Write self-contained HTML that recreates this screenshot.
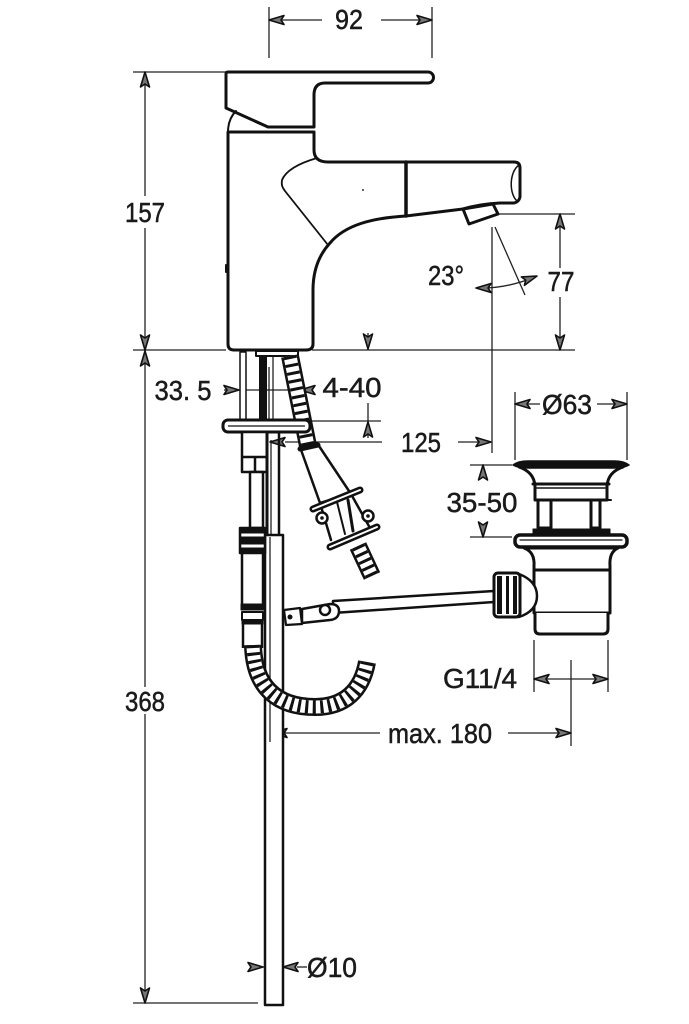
<!DOCTYPE html>
<html><head><meta charset="utf-8"><style>
html,body{margin:0;padding:0;background:#fff;}
svg{display:block;}
text{font-family:"Liberation Sans",sans-serif;font-size:28px;fill:#1a1a1a;stroke:#1a1a1a;stroke-width:0.5;}
</style></head><body>
<svg width="689" height="1024" viewBox="0 0 689 1024" xmlns="http://www.w3.org/2000/svg">
<defs>
<path id="a" d="M0,0 L-15,-4.5 L-12,0 L-15,4.5 Z" fill="#777" stroke="#111" stroke-width="1.6" stroke-linejoin="round"/>
</defs>
<rect width="689" height="1024" fill="#fff"/>

<!-- ================= DIMENSIONS ================= -->
<g stroke="#222" stroke-width="1.3" fill="none">
  <line x1="269" y1="7" x2="269" y2="58"/>
  <line x1="432" y1="7" x2="432" y2="58"/>
  <line x1="269" y1="20" x2="322" y2="20"/>
  <line x1="381" y1="20" x2="432" y2="20"/>
  <line x1="133" y1="72" x2="226" y2="72"/>
  <line x1="145" y1="72" x2="145" y2="196"/>
  <line x1="145" y1="228" x2="145" y2="687"/>
  <line x1="145" y1="714" x2="145" y2="1003"/>
  <line x1="133" y1="350" x2="226" y2="350"/>
  <line x1="312" y1="350" x2="575" y2="350"/>
  <line x1="133" y1="1003" x2="258" y2="1003"/>
  <line x1="497" y1="214" x2="575" y2="214"/>
  <line x1="560" y1="214" x2="560" y2="268"/>
  <line x1="560" y1="297" x2="560" y2="350"/>
  <line x1="495" y1="227" x2="525" y2="295"/>
  <line x1="492" y1="227" x2="492" y2="453"/>
  <path d="M478,288 Q505,289 535,277"/>
  <line x1="368" y1="333" x2="368" y2="350"/>
  <line x1="300" y1="421" x2="381" y2="421"/>
  <line x1="368" y1="403" x2="368" y2="438"/>
  <line x1="224" y1="390" x2="300" y2="390"/>
  <line x1="285" y1="442" x2="382" y2="442"/>
  <line x1="458" y1="442" x2="491" y2="442"/>
  <line x1="470" y1="465" x2="512" y2="465"/>
  <line x1="470" y1="537" x2="512" y2="537"/>
  <line x1="515" y1="392" x2="515" y2="460"/>
  <line x1="627" y1="392" x2="627" y2="460"/>
  <line x1="515" y1="404" x2="540" y2="404"/>
  <line x1="597" y1="404" x2="627" y2="404"/>
  <line x1="534" y1="640" x2="534" y2="692"/>
  <line x1="608" y1="640" x2="608" y2="692"/>
  <line x1="534" y1="679" x2="608" y2="679"/>
  <line x1="571" y1="660" x2="571" y2="746"/>
  <line x1="285" y1="733" x2="380" y2="733"/>
  <line x1="508" y1="733" x2="571" y2="733"/>
  <line x1="263" y1="967" x2="283" y2="967"/>
  <line x1="297" y1="967" x2="307" y2="967"/>
</g>

<use href="#a" transform="translate(269,20) rotate(180)"/>
<use href="#a" transform="translate(432,20)"/>
<use href="#a" transform="translate(145,72) rotate(-90)"/>
<use href="#a" transform="translate(145,350) rotate(90)"/>
<use href="#a" transform="translate(145,351) rotate(-90)"/>
<use href="#a" transform="translate(145,1003) rotate(90)"/>
<use href="#a" transform="translate(560,214) rotate(-90)"/>
<use href="#a" transform="translate(560,350) rotate(90)"/>
<use href="#a" transform="translate(476,288) rotate(180)"/>
<use href="#a" transform="translate(537,276) rotate(-20)"/>
<use href="#a" transform="translate(368,349) rotate(90)"/>
<use href="#a" transform="translate(368,422) rotate(-90)"/>
<use href="#a" transform="translate(239,390)"/>
<use href="#a" transform="translate(300,390) rotate(180)"/>
<use href="#a" transform="translate(270,442) rotate(180)"/>
<use href="#a" transform="translate(491,442)"/>
<use href="#a" transform="translate(483,465) rotate(-90)"/>
<use href="#a" transform="translate(483,537) rotate(90)"/>
<use href="#a" transform="translate(515,404) rotate(180)"/>
<use href="#a" transform="translate(627,404)"/>
<use href="#a" transform="translate(534,679) rotate(180)"/>
<use href="#a" transform="translate(608,679)"/>
<use href="#a" transform="translate(272,733) rotate(180)"/>
<use href="#a" transform="translate(571,733)"/>
<use href="#a" transform="translate(263,967)"/>
<use href="#a" transform="translate(283,967) rotate(180)"/>

<g text-anchor="middle">
  <text x="349" y="29" textLength="28" lengthAdjust="spacingAndGlyphs">92</text>
  <text x="145" y="222" textLength="40" lengthAdjust="spacingAndGlyphs">157</text>
  <text x="145" y="711" textLength="40" lengthAdjust="spacingAndGlyphs">368</text>
  <text x="561" y="291" textLength="27" lengthAdjust="spacingAndGlyphs">77</text>
  <text x="446" y="285" textLength="36" lengthAdjust="spacingAndGlyphs">23°</text>
  <text x="183" y="400" textLength="57" lengthAdjust="spacingAndGlyphs">33. 5</text>
  <text x="352" y="397" textLength="59" lengthAdjust="spacingAndGlyphs">4-40</text>
  <text x="421" y="452" textLength="40" lengthAdjust="spacingAndGlyphs">125</text>
  <text x="482" y="512" textLength="71" lengthAdjust="spacingAndGlyphs">35-50</text>
  <text x="567" y="414" textLength="50" lengthAdjust="spacingAndGlyphs">Ø63</text>
  <text x="480" y="688" textLength="74" lengthAdjust="spacingAndGlyphs">G11/4</text>
  <text x="440" y="743" textLength="104" lengthAdjust="spacingAndGlyphs">max. 180</text>
  <text x="332" y="977" textLength="50" lengthAdjust="spacingAndGlyphs">Ø10</text>
</g>

<!-- ================= FAUCET BODY ================= -->
<g stroke="#111" stroke-width="3" fill="#fff" stroke-linejoin="round" stroke-linecap="round">
  <path d="M228,132 L314,132 L314,150 Q314,162 328,162 L514,162 Q520,162 520,168 L520,197 Q519,202 514,203 L500,203 Q480,204 463,209 L406,216 C372,218 345,225 330,243 C318,256 313,272 313,290 L313,344 Q313,350 306,350 L234,350 Q228,350 228,344 Z"/>
  <path d="M228,72 L428,72 A5.5,5.5 0 0 1 428,83 L325,83 Q314,83 314,95 L314,127 L268,127 L226,108 L226,74 Q226,72 228,72 Z"/>
  <path d="M463,209 L469,224 L498,214 L493,204 Z"/>
</g>
<g stroke="#111" fill="none" stroke-linecap="round">
  <path d="M228,132 C228,123 231,116 236,111" stroke-width="2"/>
  <line x1="406" y1="162" x2="406" y2="216" stroke-width="3.5"/>
  <path d="M519,165 C509,172 509,194 517,201" stroke-width="1.5"/>
  <path d="M317,158 C300,163 286,170 282,180 C281,186 283,188 285,191 L328,245" stroke-width="1.8"/>
  <line x1="226" y1="265" x2="226" y2="272" stroke-width="2"/>
</g>
<circle cx="363" cy="190" r="1" fill="#333"/>

<!-- ================= UNDER-BASIN PARTS ================= -->
<g stroke="#111" fill="#fff" stroke-linejoin="round">
  <rect x="240" y="352" width="6" height="68" stroke-width="1.5"/>
  <rect x="256" y="351" width="42" height="5" stroke-width="2"/>
  <rect x="259" y="355" width="8" height="65" fill="#111" stroke="none"/>
  <line x1="269" y1="367" x2="269" y2="420" stroke-width="1.2"/>
  <line x1="273" y1="356" x2="273" y2="420" stroke-width="1.2"/>
</g>

<g fill="none">
  <line x1="290" y1="356" x2="308" y2="446" stroke="#111" stroke-width="18"/>
  <line x1="290" y1="356" x2="308" y2="446" stroke="#fff" stroke-width="13"/>
  <line x1="290" y1="356" x2="308" y2="446" stroke="#111" stroke-width="13" stroke-dasharray="3 5"/>
</g>

<g stroke="#111" fill="#fff" stroke-linejoin="round">
  <rect x="223" y="420" width="87" height="12" rx="5" stroke-width="3"/>
  <line x1="228" y1="426" x2="305" y2="426" stroke-width="1.2"/>
  <rect x="242" y="432" width="25" height="40" stroke-width="2.5"/>
  <line x1="242" y1="457" x2="267" y2="457" stroke-width="2.5"/>
  <line x1="255" y1="457" x2="255" y2="472" stroke-width="2.5"/>
  <rect x="250" y="472" width="13" height="56" stroke-width="2.5"/>
  <line x1="267" y1="432" x2="267" y2="535" stroke-width="3"/>
  <line x1="271" y1="440" x2="271" y2="535" stroke-width="1.2"/>
  <line x1="279" y1="432" x2="279" y2="535" stroke-width="2.5"/>
  <rect x="265" y="535" width="18" height="470" stroke-width="2.5"/>
  <line x1="270" y1="537" x2="270" y2="742" stroke-width="1.2" fill="none"/>
  <rect x="240" y="528" width="25" height="25" stroke-width="2.5"/>
  <rect x="240" y="528" width="25" height="5" fill="#111"/>
  <rect x="240" y="537" width="25" height="7" fill="#111"/>
  <rect x="240" y="548" width="25" height="5" fill="#111"/>
  <line x1="242" y1="553" x2="242" y2="604" stroke-width="2.5"/>
  <line x1="263" y1="553" x2="263" y2="604" stroke-width="2.5"/>
  <rect x="241" y="604" width="23" height="6" fill="#111"/>
  <rect x="242" y="612" width="21" height="8" stroke-width="2"/>
  <rect x="242" y="620" width="21" height="4" fill="#111"/>
  <line x1="243" y1="624" x2="243" y2="648" stroke-width="2.5"/>
  <line x1="262" y1="624" x2="262" y2="648" stroke-width="2.5"/>
</g>

<g fill="none">
  <path d="M253,645 C254,690 280,707 315,707 C345,707 362,690 367,662" stroke="#111" stroke-width="18"/>
  <path d="M253,645 C254,690 280,707 315,707 C345,707 362,690 367,662" stroke="#fff" stroke-width="13"/>
  <path d="M253,645 C254,690 280,707 315,707 C345,707 362,690 367,662" stroke="#111" stroke-width="13" stroke-dasharray="3 4.5"/>
</g>

<g stroke="#111" fill="#fff" stroke-linejoin="round" stroke-linecap="round">
  <path d="M300,447 L317,443 L351,494 L320,503 Z" stroke-width="2.5"/>
  <line x1="300" y1="449" x2="318" y2="445" stroke-width="5"/>
  <line x1="320" y1="503" x2="331" y2="540" stroke-width="2.5"/>
  <line x1="351" y1="494" x2="370" y2="528" stroke-width="2.5"/>
  <line x1="337" y1="502" x2="345" y2="534" stroke-width="2"/>
  <line x1="348" y1="500" x2="353" y2="531" stroke-width="3"/>
  <line x1="313" y1="509" x2="360" y2="490" stroke-width="7"/>
  <line x1="313" y1="509" x2="360" y2="490" stroke="#fff" stroke-width="2"/>
  <circle cx="322" cy="518" r="5.5" stroke-width="2.5"/>
  <circle cx="322" cy="518" r="1.8" fill="#111" stroke="none"/>
  <circle cx="368" cy="516" r="5.5" stroke-width="2.5"/>
  <circle cx="368" cy="516" r="1.8" fill="#111" stroke="none"/>
  <line x1="330" y1="547" x2="377" y2="527" stroke-width="7"/>
  <line x1="330" y1="547" x2="377" y2="527" stroke="#fff" stroke-width="2"/>
</g>
<g fill="none">
  <line x1="358" y1="546" x2="372" y2="576" stroke="#111" stroke-width="18"/>
  <line x1="358" y1="546" x2="372" y2="576" stroke="#fff" stroke-width="13"/>
  <line x1="358" y1="546" x2="372" y2="576" stroke="#111" stroke-width="13" stroke-dasharray="3 4.5"/>
</g>

<g stroke="#111" fill="#fff" stroke-linejoin="round">
  <path d="M333,601 L494,591 L494,602 L333,613 Z" stroke-width="2.5"/>
  <path d="M302,609 L330,604 Q339,604 339,611 Q339,619 330,620 L302,623 Z" stroke-width="2.5"/>
  <circle cx="325" cy="610" r="5" stroke-width="2.5"/>
  <path d="M284,610 L300,608 L302,624 L286,625 Z" stroke-width="2.2"/>
  <circle cx="290" cy="617" r="2.5" fill="#111" stroke="none"/>
</g>

<!-- ================= DRAIN ================= -->
<g stroke="#111" fill="#fff" stroke-linejoin="round" stroke-linecap="round">
  <path d="M519,467 Q534,472 535,486 L535,500 L607,500 L607,486 Q608,472 623,467 Z" stroke-width="3"/>
  <line x1="533" y1="484" x2="609" y2="484" stroke-width="3"/>
  <line x1="537" y1="488" x2="605" y2="488" stroke-width="1.5"/>
  <path d="M513,465 Q518,461 528,461 L614,461 Q624,461 629,465 Q624,468 614,468 L528,468 Q518,468 513,465 Z" fill="#111" stroke-width="1.5"/>
  <rect x="538" y="500" width="13" height="28" stroke-width="3"/>
  <rect x="591" y="500" width="9" height="28" stroke-width="3"/>
  <line x1="600" y1="500" x2="611" y2="500" stroke-width="2"/>
  <rect x="533" y="529" width="77" height="6" fill="#111" stroke-width="1"/>
  <rect x="515" y="535" width="112" height="12" rx="5" stroke-width="3.5"/>
  <line x1="520" y1="540" x2="622" y2="540" stroke-width="1.2"/>
  <path d="M524,548 Q535,552 534,566 L534,613 L610,613 L610,566 Q609,552 618,548 Z" stroke-width="3"/>
  <line x1="534" y1="570" x2="610" y2="570" stroke-width="3"/>
  <path d="M535,613 L535,629 Q535,634 540,634 L603,634 Q608,634 608,629 L608,613" stroke-width="3"/>
  <path d="M519,574 Q537,581 537,596 Q537,611 519,617 Z" stroke-width="2.5"/>
  <rect x="494" y="573" width="26" height="44" rx="4" stroke-width="3"/>
</g>
<g fill="#111">
  <rect x="497" y="576" width="5" height="38"/>
  <rect x="506" y="576" width="3" height="38"/>
  <rect x="513" y="576" width="4" height="38"/>
</g>

</svg>
</body></html>
